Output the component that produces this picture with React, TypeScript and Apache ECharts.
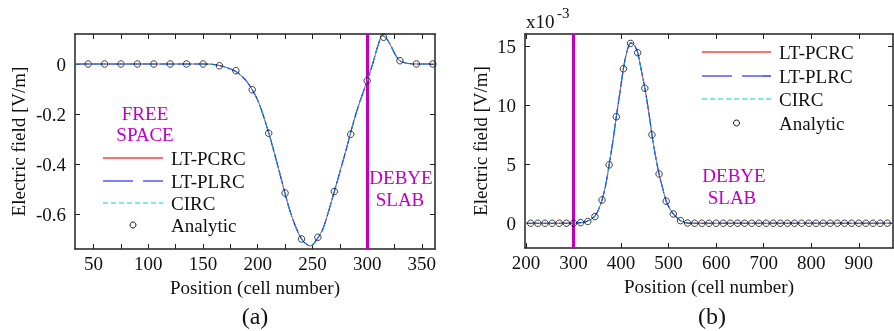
import React, { useEffect, useRef } from "react";
import * as echarts from "echarts";

// ---------- data ----------
// Panel (a)
const leftCurveX = [33, 150, 160, 170, 180, 190, 200, 210, 220, 230, 240, 248, 255, 260, 270, 280, 290, 300, 305, 310, 314, 318, 322, 326, 330, 336, 345, 362];
const leftCurveY = [0, 0, -0.002, -0.012, -0.03, -0.07, -0.145, -0.275, -0.435, -0.595, -0.7, -0.728, -0.695, -0.655, -0.51, -0.355, -0.195, -0.067, 0.0, 0.075, 0.114, 0.1, 0.07, 0.035, 0.013, 0.003, 0, 0];
const leftAnalyticX = [45, 60, 75, 90, 105, 120, 135, 150, 165, 180, 195, 210, 225, 240, 255, 270, 285, 300, 315, 330, 345, 360];
const leftAnalyticY = [0, 0, 0, 0, 0, 0, 0, 0, -0.007, -0.027, -0.103, -0.277, -0.516, -0.7, -0.693, -0.51, -0.281, -0.067, 0.107, 0.013, 0, 0];
const leftXTicks = [25, 50, 75, 100, 125, 150, 175, 200, 225, 250, 275, 300, 325, 350];
const leftXLabels = [50, 100, 150, 200, 250, 300, 350];
const leftYTicks = [-0.6, -0.4, -0.2, 0];

// Panel (b)  (values in units of 1e-3 V/m)
const rightCurveX = [198, 300, 315, 325, 335, 345, 352, 360, 368, 375, 383, 390, 398, 405, 412, 420, 428, 435, 442, 450, 458, 465, 472, 480, 488, 495, 503, 510, 518, 525, 533, 545, 972];
const rightCurveY = [0, 0, 0.05, 0.12, 0.3, 0.6, 1.1, 1.97, 3.3, 4.97, 7.0, 9.03, 11.2, 13.1, 14.5, 15.3, 15.1, 14.46, 13.1, 11.45, 9.5, 7.5, 5.8, 4.18, 2.9, 1.87, 1.2, 0.79, 0.45, 0.22, 0.08, 0, 0];
const rightAnalyticX = [210, 225, 240, 255, 270, 285, 300, 315, 330, 345, 360, 375, 390, 405, 420, 435, 450, 465, 480, 495, 510, 525, 540, 555, 570, 585, 600, 615, 630, 645, 660, 675, 690, 705, 720, 735, 750, 765, 780, 795, 810, 825, 840, 855, 870, 885, 900, 915, 930, 945, 960];
const rightAnalyticY = [0, 0, 0, 0, 0, 0, 0, 0.05, 0.15, 0.56, 1.97, 4.95, 9.03, 13.1, 15.25, 14.46, 11.45, 7.5, 4.18, 1.87, 0.79, 0.22, 0.02, 0, 0, 0, 0, 0, 0, 0, 0, 0, 0, 0, 0, 0, 0, 0, 0, 0, 0, 0, 0, 0, 0, 0, 0, 0, 0, 0, 0];
const rightXTicks = [200, 300, 400, 500, 600, 700, 800, 900];
const rightYTicks = [0, 5, 10, 15];

const slabBoundary = 300;
const legendNames = ["LT-PCRC", "LT-PLRC", "CIRC", "Analytic"];

// ---------- styles ----------
const FONT = "Liberation Serif";
const TXT = "#111";
const FRAME = "#222";
const MAG = "#c000c0";
const RED = "#ff3030";
const BLUE = "#1030ff";
const CYAN = "#10c8c8";

const zip = (xs: number[], ys: number[]) => xs.map((x, i) => [x, ys[i]]);

function xAxes(grid: number, min: number, max: number, ticks: number[], labels: number[]) {
  const line = { show: true, onZero: false, lineStyle: { color: FRAME, width: 1.5 } };
  const tick = { show: true, inside: true, length: 5, customValues: ticks, lineStyle: { color: FRAME, width: 1 } };
  return [
    {
      gridIndex: grid, type: "value", position: "bottom", min, max,
      axisLine: line, axisTick: tick, splitLine: { show: false },
      axisLabel: { customValues: labels, fontFamily: FONT, fontSize: 19, color: TXT, margin: 5 },
      name: "Position (cell number)", nameLocation: "middle", nameGap: 27,
      nameTextStyle: { fontFamily: FONT, fontSize: 19, color: TXT },
    },
    {
      gridIndex: grid, type: "value", position: "top", min, max,
      axisLine: line, axisTick: tick, splitLine: { show: false }, axisLabel: { show: false },
    },
  ];
}

function yAxes(grid: number, min: number, max: number, ticks: number[], gap: number, fmt: (v: number) => string) {
  const line = { show: true, onZero: false, lineStyle: { color: FRAME, width: 1.5 } };
  const tick = { show: true, inside: true, length: 5, customValues: ticks, lineStyle: { color: FRAME, width: 1 } };
  return [
    {
      gridIndex: grid, type: "value", position: "left", min, max,
      axisLine: line, axisTick: tick, splitLine: { show: false },
      axisLabel: { customValues: ticks, formatter: fmt, fontFamily: FONT, fontSize: 19, color: TXT, margin: 9 },
      name: "Electric field [V/m]", nameLocation: "middle", nameGap: gap,
      nameTextStyle: { fontFamily: FONT, fontSize: 19, color: TXT },
    },
    {
      gridIndex: grid, type: "value", position: "right", min, max,
      axisLine: line, axisTick: tick, splitLine: { show: false }, axisLabel: { show: false },
    },
  ];
}

function panelSeries(xi: number, yi: number, cx: number[], cy: number[], ax: number[], ay: number[]) {
  const curve = zip(cx, cy);
  return [
    {
      type: "line", name: "slab", xAxisIndex: xi, yAxisIndex: yi, data: [], z: 2, silent: true,
      markLine: {
        silent: true, symbol: ["none", "none"], label: { show: false },
        lineStyle: { color: MAG, width: 3, type: "solid" },
        data: [{ xAxis: slabBoundary }],
      },
    },
    { type: "line", name: legendNames[0], xAxisIndex: xi, yAxisIndex: yi, data: curve, symbol: "none", smooth: 0.3, lineStyle: { color: RED, width: 1 }, z: 3 },
    { type: "line", name: legendNames[1], xAxisIndex: xi, yAxisIndex: yi, data: curve, symbol: "none", smooth: 0.3, lineStyle: { color: BLUE, width: 1.2, type: [14, 3] }, z: 4 },
    { type: "line", name: legendNames[2], xAxisIndex: xi, yAxisIndex: yi, data: curve, symbol: "none", smooth: 0.3, lineStyle: { color: CYAN, width: 1, type: [5, 2], opacity: 0.8 }, z: 5 },
    {
      type: "scatter", name: legendNames[3], xAxisIndex: xi, yAxisIndex: yi, data: zip(ax, ay),
      symbol: "circle", symbolSize: 6.5,
      itemStyle: { color: "rgba(0,0,0,0)", borderColor: TXT, borderWidth: 1 }, z: 6,
    },
  ];
}

const text = (x: number, y: number, t: string, extra: any = {}) => ({
  type: "text", x, y, silent: true,
  style: { text: t, fontFamily: FONT, fontSize: 19, fill: TXT, align: "center", verticalAlign: "middle", ...extra },
});

function legend(rows: number[], x1: number, x2: number, tx: number) {
  const cx = (x1 + x2) / 2;
  const els: any[] = [];
  const styles = [
    { stroke: "#ff4040", lineWidth: 1.5 },
    { stroke: "#0000ff", lineWidth: 1.2, lineDash: [30, 10] },
    { stroke: "#00d0d0", lineWidth: 1.2, lineDash: [5, 3] },
  ];
  for (let i = 0; i < 3; i++) {
    els.push({ type: "line", silent: true, shape: { x1, y1: rows[i], x2, y2: rows[i] }, style: styles[i] });
  }
  els.push({ type: "circle", silent: true, shape: { cx, cy: rows[3], r: 3 }, style: { fill: "none", stroke: TXT, lineWidth: 1 } });
  legendNames.forEach((n, i) => els.push(text(tx, rows[i], n, { align: "left" })));
  return els;
}

export default function App() {
  const ref = useRef<HTMLDivElement>(null);
  useEffect(() => {
    if (!ref.current) return;
    const chart = echarts.init(ref.current, undefined, { renderer: "svg" });
    const option: any = {
      animation: false,
      grid: [
        { left: 75, top: 34, width: 360, height: 215 },
        { left: 525, top: 34, width: 368, height: 214 },
      ],
      xAxis: [
        ...xAxes(0, 33, 362, leftXTicks, leftXLabels),
        ...xAxes(1, 198, 972, rightXTicks, rightXTicks),
      ],
      yAxis: [
        ...yAxes(0, -0.74, 0.12, leftYTicks, 47, (v: number) => (v === 0 ? "0" : v.toFixed(1))),
        ...yAxes(1, -2.1, 16.05, rightYTicks, 35, (v: number) => String(v)),
      ],
      series: [
        ...panelSeries(0, 0, leftCurveX, leftCurveY, leftAnalyticX, leftAnalyticY),
        ...panelSeries(2, 2, rightCurveX, rightCurveY, rightAnalyticX, rightAnalyticY),
      ],
      graphic: [
        text(145, 113, "FREE", { fill: MAG }),
        text(145, 134, "SPACE", { fill: MAG }),
        text(401, 177, "DEBYE", { fill: MAG }),
        text(400, 199, "SLAB", { fill: MAG }),
        text(734, 175, "DEBYE", { fill: MAG }),
        text(732, 197, "SLAB", { fill: MAG }),
        text(255, 316, "(a)", { fontSize: 24 }),
        text(712, 316, "(b)", { fontSize: 24 }),
        text(526, 21, "x10", { align: "left" }),
        text(557, 13, "-3", { align: "left", fontSize: 15 }),
        ...legend([158, 181, 203, 225], 103, 163, 171),
        ...legend([52, 76, 99, 123], 702, 771, 779),
      ],
    };
    chart.setOption(option);
    return () => chart.dispose();
  }, []);
  return <div ref={ref} style={{ position: "fixed", left: 0, top: 0, width: 894, height: 331 }} />;
}
